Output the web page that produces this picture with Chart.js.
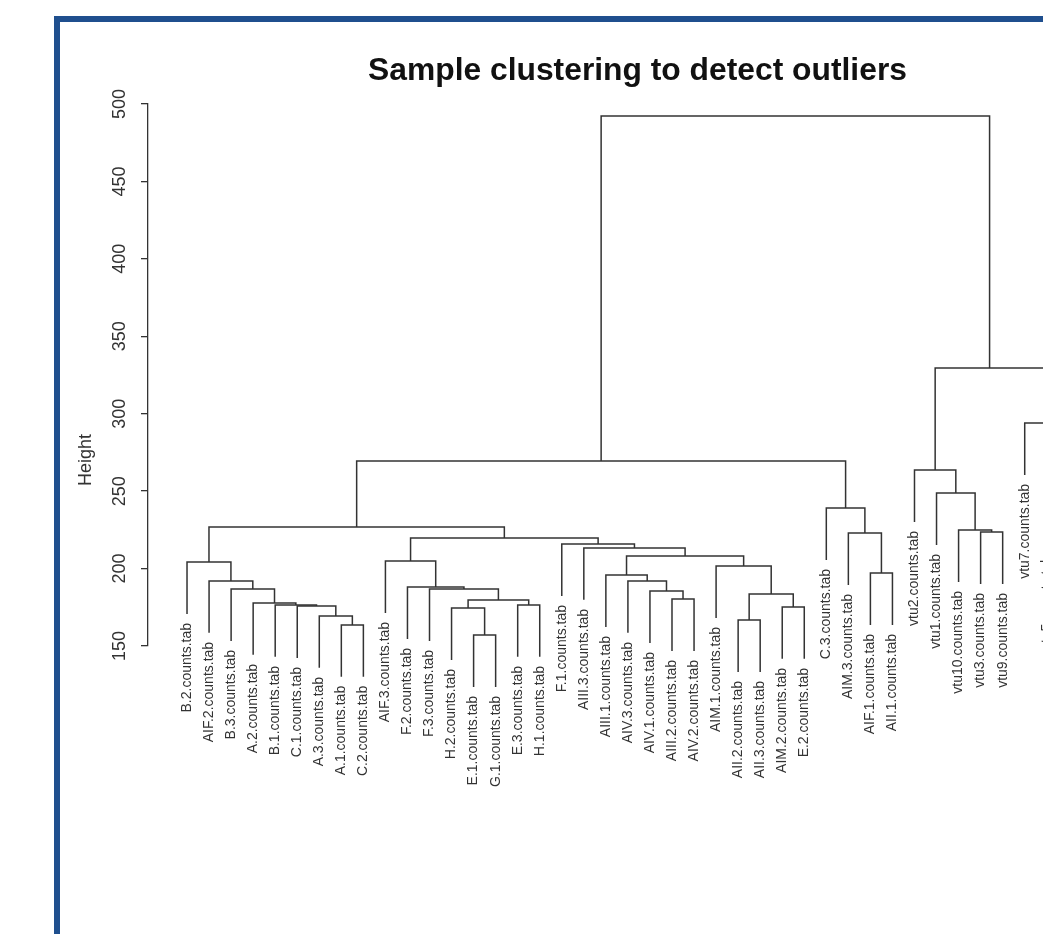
<!DOCTYPE html>
<html><head><meta charset="utf-8">
<script src="https://cdn.jsdelivr.net/npm/chart.js@4.4.0/dist/chart.umd.min.js"></script>
<style>
html,body{margin:0;padding:0;background:#fff;overflow:hidden;width:1043px;height:934px;}
#wrap{position:relative;width:1043px;height:934px;overflow:hidden;background:#fff;}
canvas{position:absolute;left:0;top:0;}
#frame{position:absolute;left:54px;top:16px;width:2000px;height:2000px;border-left:6px solid #1f4f8e;border-top:6px solid #1f4f8e;pointer-events:none;}
</style></head><body>
<div id="wrap"><canvas id="c" width="1140" height="934" style="width:1140px;height:934px"></canvas><div id="frame"></div></div>
<script>
// Leaves in dendrogram display order
const leafLabels = [
  "B.2.counts.tab","AIF.2.counts.tab","B.3.counts.tab","A.2.counts.tab","B.1.counts.tab","C.1.counts.tab","A.3.counts.tab","A.1.counts.tab","C.2.counts.tab",
  "AIF.3.counts.tab","F.2.counts.tab","F.3.counts.tab","H.2.counts.tab","E.1.counts.tab","G.1.counts.tab","E.3.counts.tab","H.1.counts.tab",
  "F.1.counts.tab","AIII.3.counts.tab","AIII.1.counts.tab","AIV.3.counts.tab","AIV.1.counts.tab","AIII.2.counts.tab","AIV.2.counts.tab",
  "AIM.1.counts.tab","AII.2.counts.tab","AII.3.counts.tab","AIM.2.counts.tab","E.2.counts.tab",
  "C.3.counts.tab","AIM.3.counts.tab","AIF.1.counts.tab","AII.1.counts.tab",
  "vtu2.counts.tab","vtu1.counts.tab","vtu10.counts.tab","vtu3.counts.tab","vtu9.counts.tab",
  "vtu7.counts.tab","vtu5.counts.tab","vtu4.counts.tab","vtu6.counts.tab"
];
// hclust-style merge table: negative = leaf position (1-based), positive = earlier merge (1-based)
const mergeLeft  = [-8,-7,-6,-5,-4,-3,-2,-1, -14,-13,-16,10,-12,-11,-10,
  -23,-22,-21,-20,-26,-28,20,-25,19,-19,-18,15,8,
  -32,-31,-30,28, -37,-36,-35,-34,-41,-40,-39,36,32];
const mergeRight = [-9,1,2,3,4,5,6,7, -15,9,-17,11,12,13,14,
  -24,16,17,18,-27,-29,21,22,23,24,25,26,27,
  -33,29,30,31, -38,33,34,35,-42,37,38,39,40];
const mergeHeight = [163.6,169.4,175.8,176.5,177.8,186.8,192.0,204.2,
  157.1,174.5,176.5,179.7,186.8,188.1,204.9,
  180.3,185.5,192.0,195.8,166.8,175.2,183.6,201.6,208.1,213.3,215.8,219.7,226.8,
  197.1,222.9,239.1,269.4,
  223.6,224.9,248.8,263.6,230.0,248.0,294.0,329.5,492.2];
const titleText = "Sample clustering to detect outliers";
const yTitle = "Height";

const FONT = '"Liberation Sans", Arial, Helvetica, sans-serif';
const hang = 0.1 * (Math.max(...mergeHeight) - Math.min(...mergeHeight));
const nodeX = [];
const leafBottom = new Array(leafLabels.length);
function childX(c){ return c < 0 ? -c : nodeX[c-1]; }
function childTop(c, h){
  if (c < 0) { leafBottom[-c-1] = h - hang; return h - hang; }
  return mergeHeight[c-1];
}
const datasets = mergeHeight.map((h,k) => {
  const l = mergeLeft[k], r = mergeRight[k];
  const xl = childX(l), xr = childX(r);
  nodeX[k] = (xl + xr) / 2;
  return {
    data: [{x:xl,y:childTop(l,h)},{x:xl,y:h},{x:xr,y:h},{x:xr,y:childTop(r,h)}],
    showLine: true, borderColor: '#333', borderWidth: 1.5, pointRadius: 0,
    fill: false, tension: 0, clip: false
  };
});

const labelPlugin = {
  id: 'leafLabels',
  afterDraw(chart){
    const {ctx, scales:{x, y}} = chart;
    ctx.save();
    ctx.fillStyle = '#333';
    ctx.font = '14px ' + FONT;
    ctx.textAlign = 'right';
    ctx.textBaseline = 'middle';
    leafLabels.forEach((t,i) => {
      const px = x.getPixelForValue(i+1);
      const py = y.getPixelForValue(leafBottom[i]) + 9;
      ctx.save(); ctx.translate(px, py); ctx.rotate(-Math.PI/2); ctx.fillText(t, 0, 0); ctx.restore();
    });
    ctx.font = '18px ' + FONT;
    ctx.textAlign = 'center';
    ctx.save(); ctx.translate(86, 460); ctx.rotate(-Math.PI/2); ctx.fillText(yTitle, 0, 0); ctx.restore();
    ctx.restore();
  }
};

new Chart(document.getElementById('c'), {
  type: 'scatter',
  data: { datasets },
  options: {
    responsive: false, animation: false, events: [],
    layout: { padding: {left:0, right:13, top:0, bottom:288}, autoPadding: false },
    plugins: {
      legend: {display:false}, tooltip: {enabled:false},
      title: { display:true, text:titleText, fullSize:false, color:'#111',
        font:{family:FONT, size:31.8, weight:'bold'}, padding:{top:51.9, bottom:13.94} }
    },
    scales: {
      x: { type:'linear', display:false, min:-0.77, max:43.64 },
      y: { type:'linear', min:150, max:500,
        afterFit(s){ s.width = 148; },
        border: {display:true, color:'#333', width:1.3},
        grid: {drawOnChartArea:false, drawTicks:true, tickLength:7, color:'#333', lineWidth:1.3},
        ticks: {stepSize:50, minRotation:90, maxRotation:90, crossAlign:'center', padding:6, color:'#333',
          font:{family:FONT, size:18}} }
    }
  },
  plugins: [labelPlugin]
});
</script>
</body></html>
